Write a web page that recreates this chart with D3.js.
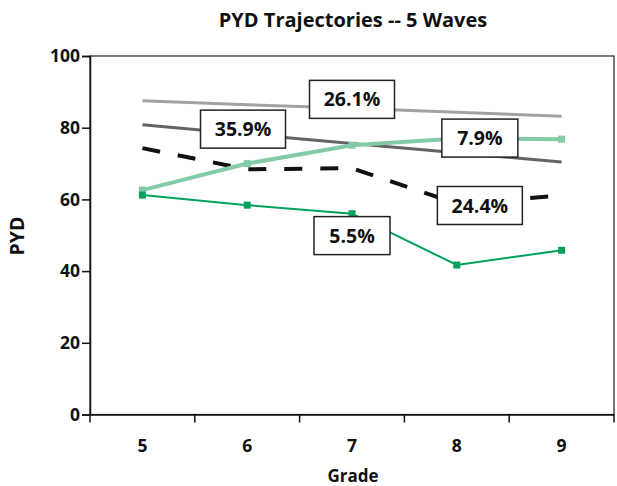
<!DOCTYPE html>
<html><head><meta charset="utf-8">
<script src="https://cdn.jsdelivr.net/npm/d3@7"></script>
<style>
html,body{margin:0;padding:0;background:#fff;}
svg{display:block;font-family:"Open Sans",sans-serif;font-weight:700;}
</style></head>
<body><svg id="c" width="617" height="486"></svg>
<script>
const grades = [5, 6, 7, 8, 9];
const yTicks = [0, 20, 40, 60, 80, 100];
const lightGray = [87.5, 86.4, 85.4, 84.3, 83.2];
const darkGray = [80.8, 78.2, 75.6, 73.0, 70.4];
const dashedBlack = [74.3, 68.4, 68.7, 58.8, 61.1];
const lightGreen = [62.6, 70.0, 75.1, 77.0, 76.8];
const green = [61.2, 58.4, 56.0, 41.7, 45.8];
const labelTexts = ["26.1%", "35.9%", "7.9%", "24.4%", "5.5%"];
const labelGrade = [7.0, 5.96, 8.22, 8.22, 7.0];
const labelValue = [87.9, 79.6, 77.1, 58.3, 49.9];

const svg = d3.select("#c");
const L = 90, R = 614, T = 56, B = 414.5;
const xb = d3.scaleBand().domain(grades).range([L, R]).padding(0);
const xc = g => xb(g) + xb.bandwidth() / 2;
const xl = d3.scaleLinear().domain([5, 9]).range([xc(5), xc(9)]);
const y = d3.scaleLinear().domain([0, 100]).range([B, T]);
const ink = "#111";

// frame
svg.append("rect").attr("x", L).attr("y", T).attr("width", R - L).attr("height", B - T)
  .attr("fill", "none").attr("stroke", "#222").attr("stroke-width", 1.2);

// y axis
const ya = svg.append("g").attr("transform", `translate(${L},0)`)
  .call(d3.axisLeft(y).tickValues(yTicks).tickSize(8).tickPadding(2));
ya.select(".domain").attr("stroke", ink).attr("stroke-width", 1.5);
ya.selectAll(".tick line").attr("stroke", ink).attr("stroke-width", 1.5);
ya.selectAll("text").attr("font-size", 17.5).attr("font-family", "Open Sans").attr("font-weight", 700).attr("fill", ink);

// x axis
const xa = svg.append("g").attr("transform", `translate(0,${B})`)
  .call(d3.axisBottom(xb).tickSize(0).tickPadding(0));
xa.select(".domain").attr("stroke", ink).attr("stroke-width", 1.5);
xa.selectAll("text").attr("font-size", 17.5).attr("font-family", "Open Sans").attr("font-weight", 700)
  .attr("fill", ink).attr("y", 37.5).attr("dy", 0);
const bounds = grades.map(g => xb(g)).concat([R]);
svg.append("g").selectAll("line").data(bounds).join("line")
  .attr("x1", d => d).attr("x2", d => d).attr("y1", B).attr("y2", B + 8)
  .attr("stroke", ink).attr("stroke-width", 1.5);

// titles
svg.append("text").attr("x", 353).attr("y", 26.5).attr("text-anchor", "middle")
  .attr("font-size", 20).attr("fill", ink).text("PYD Trajectories -- 5 Waves");
svg.append("text").attr("x", 353).attr("y", 481.5).attr("text-anchor", "middle")
  .attr("font-size", 17).attr("fill", ink).text("Grade");
svg.append("text").attr("transform", "translate(24,236) rotate(-90)").attr("text-anchor", "middle")
  .attr("font-size", 19.5).attr("fill", ink).text("PYD");

const line = d3.line().x((d, i) => xc(grades[i])).y(d => y(d));

svg.append("path").datum(lightGray).attr("d", line).attr("fill", "none")
  .attr("stroke", "#a2a2a4").attr("stroke-width", 3);
svg.append("path").datum(darkGray).attr("d", line).attr("fill", "none")
  .attr("stroke", "#636365").attr("stroke-width", 3);
svg.append("path").datum(dashedBlack).attr("d", line).attr("fill", "none")
  .attr("stroke", ink).attr("stroke-width", 4).attr("stroke-dasharray", "18,18");
svg.append("path").datum(lightGreen).attr("d", line).attr("fill", "none")
  .attr("stroke", "#82cba6").attr("stroke-width", 4);
svg.append("g").selectAll("rect").data(lightGreen).join("rect")
  .attr("x", (d, i) => xc(grades[i]) - 3.5).attr("y", d => y(d) - 3.5)
  .attr("width", 7).attr("height", 7).attr("fill", "#82cba6");
svg.append("path").datum(green).attr("d", line).attr("fill", "none")
  .attr("stroke", "#00a05e").attr("stroke-width", 2);
svg.append("g").selectAll("rect").data(green).join("rect")
  .attr("x", (d, i) => xc(grades[i]) - 3.5).attr("y", d => y(d) - 3.5)
  .attr("width", 7).attr("height", 7).attr("fill", "#00a05e");

// label boxes
const lg = svg.append("g").selectAll("g").data(labelTexts).join("g")
  .attr("transform", (d, i) => `translate(${xl(labelGrade[i])},${y(labelValue[i])})`);
lg.append("rect").attr("x", (d) => d.length > 4 ? -42.5 : -38).attr("y", -19)
  .attr("width", d => d.length > 4 ? 85 : 76).attr("height", 38)
  .attr("fill", "#fff").attr("stroke", "#222").attr("stroke-width", 1.5);
lg.append("text").attr("text-anchor", "middle").attr("dy", "0.36em")
  .attr("font-size", 19.5).attr("fill", ink).text(d => d);
</script></body></html>
